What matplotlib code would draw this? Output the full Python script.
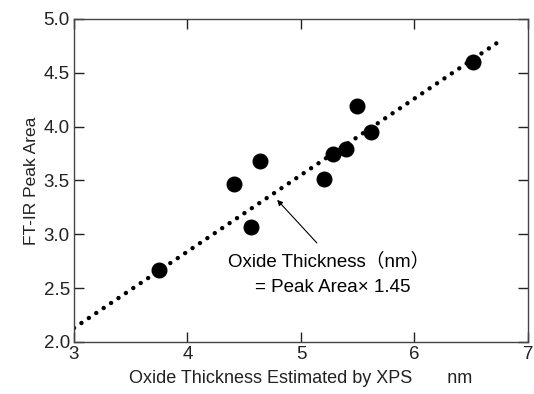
import matplotlib
matplotlib.use('Agg')
import matplotlib.pyplot as plt

# measured points: XPS thickness vs FT-IR peak area
xps_nm = [3.75, 4.41, 4.64, 4.56, 5.20, 5.28, 5.40, 5.49, 5.62, 6.52]
peak_area = [2.67, 3.47, 3.68, 3.07, 3.51, 3.75, 3.79, 4.19, 3.95, 4.60]

# fit line endpoints
fit_x = [3.0, 6.76]
fit_y = [2.13, 4.80]

xticks = [3, 4, 5, 6, 7]
yticks = [2.0, 2.5, 3.0, 3.5, 4.0, 4.5, 5.0]

plt.rcParams['font.family'] = ['Liberation Sans', 'Noto Sans CJK JP', 'DejaVu Sans']

fig = plt.figure(figsize=(5.34, 3.94), dpi=100)
ax = fig.add_axes([0.1386, 0.132, 0.85, 0.82])

ax.plot(fit_x, fit_y, color='black', linewidth=3.2,
        linestyle=(0, (0.01, 2.0)), dash_capstyle='round', zorder=2)
ax.plot(xps_nm, peak_area, 'o', color='black', markersize=10.5, zorder=3)

# arrow pointing at the fit line
ax.annotate('', xy=(4.79, 3.32), xytext=(5.14, 2.92),
            arrowprops=dict(arrowstyle='-|>', color='black', lw=0.8,
                            mutation_scale=8, shrinkA=0, shrinkB=0))
ax.text(5.24, 2.745, 'Oxide Thickness\uff08nm\uff09', ha='center', va='center', fontsize=13.5)
ax.text(5.28, 2.51, '= Peak Area\u00d7 1.45', ha='center', va='center', fontsize=13.5)

ax.set_xlim(3, 7)
ax.set_ylim(2.0, 5.0)
ax.set_xticks(xticks)
ax.set_yticks(yticks)
ax.set_yticklabels(['%.1f' % v for v in yticks])
ax.tick_params(direction='in', top=True, right=True, length=7, width=1,
               labelsize=13.5, colors='#222222', pad=3)
for s in ax.spines.values():
    s.set_color('#444444')
    s.set_linewidth(1)

ax.set_xlabel('Oxide Thickness Estimated by XPS       nm', fontsize=13, color='#222222', labelpad=5)
ax.set_ylabel('FT-IR Peak Area', fontsize=12.5, color='#222222', labelpad=3)

fig.savefig('out.png', dpi=100)
